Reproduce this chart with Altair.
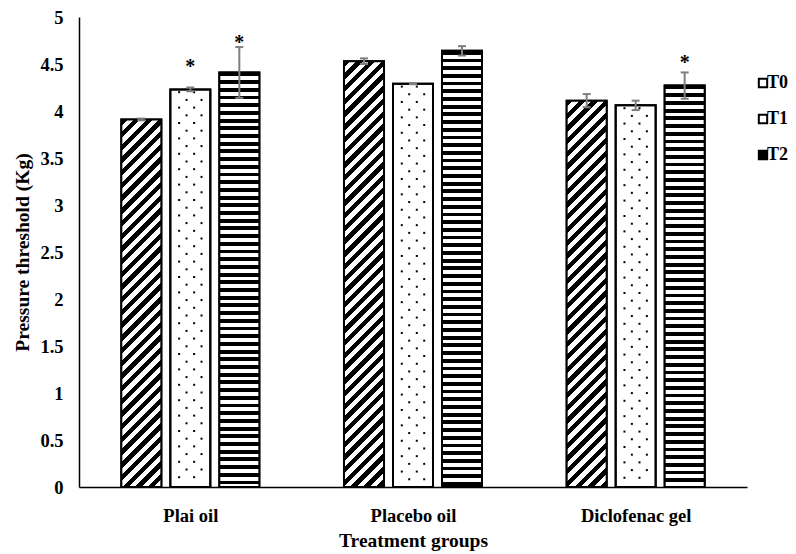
import altair as alt
import pandas as pd

# ---- data ----
groups = ["Plai oil", "Placebo oil", "Diclofenac gel"]
series = ["T0", "T1", "T2"]
t0_vals = [3.91, 4.53, 4.11]
t1_vals = [4.23, 4.29, 4.06]
t2_vals = [4.41, 4.64, 4.27]
t0_err = [0.01, 0.03, 0.07]
t1_err = [0.02, 0.005, 0.05]
t2_err = [0.27, 0.05, 0.14]
sig_group = ["Plai oil", "Plai oil", "Diclofenac gel"]
sig_series = ["T1", "T2", "T2"]
sig_y = [4.51, 4.77, 4.55]

# ---- layout / style ----
W, H = 668, 470
PXX = W / 3.0          # px per x unit
PXY = H / 5.0          # px per y unit
STEP = 49 / PXX        # offset between bars in a group
HALF = 20 / PXX        # half bar width
CAP = 4 / PXX          # half error-cap width
FONT = "Liberation Serif"

vals = {"T0": t0_vals, "T1": t1_vals, "T2": t2_vals}
errs = {"T0": t0_err, "T1": t1_err, "T2": t2_err}

rows = []
for gi, g in enumerate(groups):
    for si, s in enumerate(series):
        v = vals[s][gi]
        e = errs[s][gi]
        xc = gi + 0.5 + (si - 1) * STEP
        rows.append(dict(group=g, series=s, gi=gi, value=v, lo=v - e, hi=v + e,
                         xc=xc, x1=xc - HALF, x2=xc + HALF, c1=xc - CAP, c2=xc + CAP))
df = pd.DataFrame(rows)

# dots pattern for T1
dots = []
for r in rows:
    if r["series"] != "T1":
        continue
    y = r["value"] - 0.03
    k = 0
    while y > 0.03:
        offs = (-11.2, 3.8) if k % 2 == 0 else (-3.8, 11.2)
        for o in offs:
            dots.append(dict(x=r["xc"] + o / PXX, y=y))
        y -= 7.7 / PXY
        k += 1
dots_df = pd.DataFrame(dots)

sig_rows = []
for g, s, y in zip(sig_group, sig_series, sig_y):
    r = df[(df.group == g) & (df.series == s)].iloc[0]
    sig_rows.append(dict(x=r.xc, y=y, t="*"))
sig_df = pd.DataFrame(sig_rows)


def stripes(total_px, period, frac):
    stops = []
    k = 0
    while k * period < total_px:
        a = k * period / total_px
        b = min((k + frac) * period / total_px, 1.0)
        c = min((k + 1) * period / total_px, 1.0)
        stops += [dict(offset=a, color="black"), dict(offset=b, color="black"),
                  dict(offset=b, color="white"), dict(offset=c, color="white")]
        k += 1
    return stops


def diag_gradient(v, w=40.0, period=12.7, frac=0.5):
    h = v * PXY
    r = h / w
    dx = (1 + r) / (1 + r * r)
    dy = r * dx
    return dict(gradient="linear", x1=0, y1=0, x2=dx, y2=dy,
                stops=stripes(w + h, period, frac))


def horiz_gradient(v, period=7.7, frac=0.5):
    h = v * PXY
    return dict(gradient="linear", x1=0, y1=0, x2=0, y2=1,
                stops=stripes(h, period, frac))


label_arr = "[" + ",".join("'" + g + "'" for g in groups) + "]"
xscale = alt.Scale(domain=[0, 3], nice=False, zero=False)
yscale = alt.Scale(domain=[0, 5], nice=False)
xaxis = alt.Axis(values=[0.5, 1.5, 2.5], labelExpr=label_arr + "[floor(datum.value)]",
                 labelPadding=19, titlePadding=7)
yaxis = alt.Axis(values=[i * 0.5 for i in range(11)], format="~g",
                 labelPadding=16, titlePadding=7)
XT = "Treatment groups"
YT = "Pressure threshold (Kg)"

base = alt.Chart(df).mark_rect(stroke="black", strokeWidth=2).encode(
    x=alt.X("x1:Q", scale=xscale, axis=xaxis, title=XT),
    x2="x2:Q",
    y=alt.Y("value:Q", scale=yscale, axis=yaxis, title=YT),
    y2=alt.datum(0),
    fill=alt.Fill("series:N", scale=alt.Scale(domain=series, range=["white", "white", "black"]),
                  legend=alt.Legend(title=None, orient="none", legendX=675, legendY=57,
                                    symbolType="square", symbolSize=70,
                                    symbolStrokeColor="black", symbolStrokeWidth=2,
                                    labelFont=FONT, labelFontWeight="bold", labelFontSize=18,
                                    labelColor="black", labelOffset={"expr": "-5"},
                                    rowPadding=18, padding=0)),
)

layers = [base]
for gi, g in enumerate(groups):
    for s, fn in (("T0", diag_gradient), ("T2", horiz_gradient)):
        v = vals[s][gi]
        layers.append(
            alt.Chart(df).transform_filter(
                (alt.datum.group == g) & (alt.datum.series == s)
            ).mark_rect(fill=fn(v), stroke="black", strokeWidth=2).encode(
                x=alt.X("x1:Q", scale=xscale, axis=xaxis, title=XT),
                x2="x2:Q",
                y=alt.Y("value:Q", scale=yscale, axis=yaxis, title=YT),
                y2=alt.datum(0),
            )
        )

dots_layer = alt.Chart(dots_df).mark_square(size=4, color="black", opacity=1).encode(
    x=alt.X("x:Q", scale=xscale, axis=xaxis, title=XT),
    y=alt.Y("y:Q", scale=yscale, axis=yaxis, title=YT),
)
# redraw T1 outline above dots
t1_outline = alt.Chart(df).transform_filter(alt.datum.series == "T1").mark_rect(
    fill="transparent", stroke="black", strokeWidth=2).encode(
    x=alt.X("x1:Q", scale=xscale, axis=xaxis, title=XT),
    x2="x2:Q",
    y=alt.Y("value:Q", scale=yscale, axis=yaxis, title=YT),
    y2=alt.datum(0),
)

ERR = "#7f7f7f"
err_v = alt.Chart(df).mark_rule(color=ERR, strokeWidth=2).encode(
    x=alt.X("xc:Q", scale=xscale, axis=xaxis, title=XT),
    y=alt.Y("lo:Q", scale=yscale, axis=yaxis, title=YT),
    y2="hi:Q",
)
err_top = alt.Chart(df).mark_rule(color=ERR, strokeWidth=2).encode(
    x=alt.X("c1:Q", scale=xscale, axis=xaxis, title=XT),
    x2="c2:Q",
    y=alt.Y("hi:Q", scale=yscale, axis=yaxis, title=YT),
)
err_bot = alt.Chart(df).mark_rule(color=ERR, strokeWidth=2).encode(
    x=alt.X("c1:Q", scale=xscale, axis=xaxis, title=XT),
    x2="c2:Q",
    y=alt.Y("lo:Q", scale=yscale, axis=yaxis, title=YT),
)

sig = alt.Chart(sig_df).mark_text(font=FONT, fontWeight="bold", fontSize=20,
                                  color="black", baseline="middle", dy=4).encode(
    x=alt.X("x:Q", scale=xscale, axis=xaxis, title=XT),
    y=alt.Y("y:Q", scale=yscale, axis=yaxis, title=YT),
    text="t:N",
)

layers += [dots_layer, t1_outline, err_v, err_top, err_bot, sig]

chart = alt.layer(*layers).properties(
    width=W, height=H,
    autosize=alt.AutoSizeParams(type="none"),
    padding={"left": 71, "top": 9, "right": 41, "bottom": 67},
).configure_view(stroke=None).configure_axis(
    grid=False, ticks=False, domainColor="black", domainWidth=1.5,
    labelFont=FONT, labelFontWeight="bold", labelFontSize=18.5, labelColor="black",
    titleFont=FONT, titleFontWeight="bold", titleFontSize=19.5, titleColor="black",
)

chart.save("out.html", embed_options={"renderer": "svg", "actions": False})
